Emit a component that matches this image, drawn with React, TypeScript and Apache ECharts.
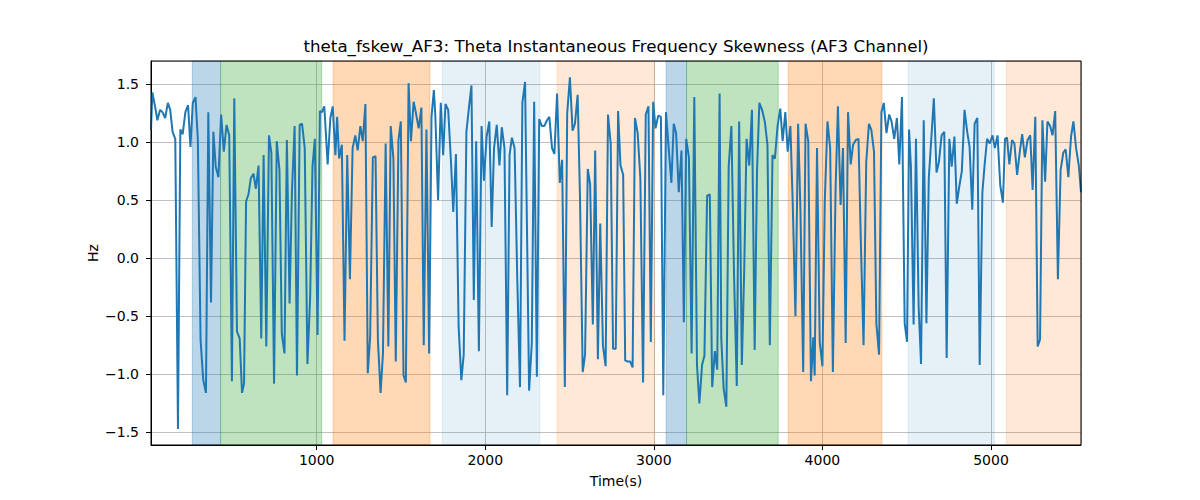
import React, { useEffect, useRef } from "react";
import * as echarts from "echarts";

const TITLE = "theta_fskew_AF3: Theta Instantaneous Frequency Skewness (AF3 Channel)";
const X_LABEL = "Time(s)";
const Y_LABEL = "Hz";

const X_MIN = 17;
const X_MAX = 5534;
const Y_MIN = -1.609;
const Y_MAX = 1.701;

const times = [
  17, 25, 41, 55, 71, 85, 101, 117, 131, 145, 161, 177, 191, 205, 221, 237, 251, 265, 281, 295,
  311, 327, 343, 357, 373, 387, 401, 417, 433, 449, 465, 481, 497, 511, 527, 543, 557, 569, 581, 595,
  609, 625, 639, 655, 671, 685, 701, 717, 731, 747, 763, 779, 793, 809, 823, 839, 853, 869, 883, 899,
  913, 929, 945, 961, 975, 989, 1005, 1019, 1031, 1045, 1065, 1081, 1095, 1111, 1121, 1133, 1149, 1165, 1181, 1197,
  1213, 1229, 1243, 1259, 1273, 1289, 1303, 1317, 1333, 1349, 1363, 1379, 1393, 1409, 1425, 1439, 1455, 1469, 1485, 1499,
  1515, 1529, 1545, 1559, 1575, 1589, 1605, 1621, 1635, 1651, 1667, 1681, 1695, 1704, 1720, 1736, 1750, 1764, 1780, 1796,
  1810, 1826, 1842, 1858, 1872, 1888, 1904, 1918, 1932, 1946, 1962, 1978, 1992, 2008, 2024, 2038, 2052, 2068, 2084, 2098,
  2114, 2130, 2144, 2158, 2174, 2190, 2206, 2220, 2236, 2260, 2276, 2290, 2306, 2320, 2336, 2350, 2366, 2380, 2396, 2410,
  2426, 2442, 2456, 2472, 2486, 2502, 2518, 2532, 2548, 2562, 2578, 2592, 2608, 2622, 2638, 2652, 2668, 2682, 2698, 2714,
  2728, 2744, 2758, 2774, 2788, 2802, 2818, 2830, 2844, 2860, 2874, 2888, 2904, 2920, 2936, 2952, 2968, 2982, 2996, 3010,
  3026, 3042, 3056, 3072, 3088, 3104, 3118, 3132, 3148, 3164, 3178, 3192, 3208, 3224, 3240, 3256, 3270, 3286, 3300, 3316,
  3332, 3346, 3362, 3376, 3390, 3400, 3414, 3430, 3444, 3460, 3476, 3492, 3506, 3522, 3536, 3550, 3566, 3582, 3598, 3612,
  3626, 3642, 3658, 3674, 3688, 3704, 3718, 3734, 3750, 3764, 3780, 3794, 3810, 3824, 3840, 3856, 3870, 3886, 3900, 3916,
  3932, 3946, 3954, 3968, 3984, 4000, 4014, 4030, 4046, 4062, 4078, 4092, 4108, 4122, 4138, 4152, 4168, 4182, 4198, 4214,
  4228, 4244, 4260, 4276, 4290, 4306, 4320, 4336, 4350, 4364, 4380, 4396, 4410, 4426, 4442, 4456, 4472, 4488, 4502, 4514,
  4525, 4541, 4555, 4571, 4585, 4601, 4617, 4631, 4645, 4661, 4677, 4691, 4707, 4723, 4737, 4753, 4767, 4783, 4797, 4813,
  4827, 4843, 4859, 4873, 4889, 4903, 4919, 4933, 4949, 4963, 4977, 4993, 5009, 5023, 5039, 5055, 5071, 5083, 5095, 5109,
  5125, 5139, 5155, 5171, 5185, 5201, 5217, 5233, 5247, 5263, 5277, 5291, 5305, 5321, 5335, 5351, 5365, 5381, 5397, 5413,
  5429, 5443, 5459, 5475, 5489, 5505, 5521, 5534,
];

const skewness = [
  1.11, 1.43, 1.31, 1.19, 1.28, 1.26, 1.21, 1.34, 1.28, 1.09, 1.03, -1.47, 1.11, 1.07, 1.26, 1.32, 0.96, 1.34, 1.39, 1.02,
  -0.70, -1.05, -1.16, 1.26, -0.38, 1.09, 0.79, 0.70, 1.24, 0.92, 1.15, 1.06, -1.06, 1.38, -0.63, -0.69, -1.16, -1.08, 0.49, 0.55,
  0.69, 0.73, 0.60, 0.80, -0.69, 0.89, -0.76, 1.06, 0.91, -1.08, 1.01, 0.76, -0.65, -0.82, 1.02, -0.39, 0.57, 1.14, -1.01, 1.15,
  1.16, 0.95, -0.91, -0.34, 0.79, 1.03, -0.66, 1.27, 1.26, 1.31, 0.81, 1.21, 1.31, 0.89, 1.22, 0.86, 0.98, -0.71, 0.89, -0.18,
  0.95, 1.06, 0.93, 1.14, 1.01, 1.33, -0.99, -0.68, 0.87, 0.88, -0.70, -1.16, -0.82, 0.99, -0.76, 1.14, 0.86, -0.89, 1.02, 1.18,
  -1.01, -1.07, 1.51, 1.01, 1.35, 1.25, 1.12, 1.30, -0.75, 1.11, -0.82, 1.22, 1.45, 1.22, 0.50, 1.34, 0.89, 1.33, 1.28, 0.85,
  0.40, 0.90, -0.59, -1.05, -0.83, 1.09, 1.31, 1.49, -0.36, 1.01, -0.80, 1.14, 0.67, 1.05, 1.18, 0.27, 0.95, 1.15, 0.80, 1.13,
  0.95, -1.18, 0.89, 1.04, 0.95, -0.19, -1.11, 1.34, 1.52, -1.14, -0.73, 1.35, -1.02, 1.20, 1.14, 1.14, 1.19, 1.22, 0.95, 0.90,
  1.42, 0.65, 0.85, -1.11, 1.25, 1.56, 1.10, 1.16, 1.41, 0.52, -0.98, -0.83, 0.77, 0.64, -0.57, 0.93, -0.87, 0.30, -0.75, -0.93,
  1.24, 0.99, -0.78, -0.78, 1.27, 0.80, 0.72, -0.88, -0.89, -0.89, -0.94, 1.21, 1.08, 0.69, -1.07, 1.24, 1.31, -0.72, 1.35, 1.12,
  1.23, 1.22, -1.18, 1.26, 0.95, 0.65, 1.16, 1.08, 0.57, 0.93, -0.55, 1.03, 0.87, -0.82, 1.39, -0.92, -1.25, -0.92, -0.84, 0.54,
  0.55, -1.11, -0.80, -0.96, 1.42, -0.69, -1.12, -1.28, 0.79, 1.14, -0.16, -1.10, 1.18, -0.92, -0.11, 1.03, 0.80, 1.28, -0.79, 0.75,
  1.34, 1.28, 1.18, 0.98, -0.75, 0.89, 0.86, 1.14, 1.29, 1.01, 1.26, 0.92, 1.14, 0.47, -0.50, 1.16, 0.39, -0.98, 1.16, 1.01,
  -1.06, -0.68, -1.01, 0.95, -0.72, -0.93, 0.49, 1.18, 0.95, -0.98, 0.59, 1.31, 0.46, 0.95, -0.73, 1.26, 0.81, 0.98, 1.02, 1.03,
  0.14, -0.75, 0.83, 1.16, 1.11, 0.92, -0.56, -0.83, 1.26, 1.34, 1.08, 1.24, 1.18, 1.03, 1.21, 0.81, 1.39, -0.56, -0.72, 1.11,
  0.79, -0.57, 1.03, -0.42, -0.91, 1.19, -0.56, 0.69, 1.01, 1.38, 0.74, 0.83, 1.06, 1.09, -0.86, 1.03, 0.79, 1.05, 0.47, 0.63,
  0.75, 1.28, 1.09, 0.96, 0.42, 1.16, 1.21, -0.92, 0.57, 0.82, 1.03, 0.99, 1.06, 0.95, 1.06, 0.63, 0.48, 1.03, 1.04, 0.81,
  1.02, 0.99, 0.72, 0.92, 1.07, 0.87, 1.02, 1.06, 0.59, 1.22, -0.76, -0.70, 1.19, 0.66, 1.18, 1.14, 1.06, 1.27, -0.18, 0.76,
  0.91, 0.94, 0.70, 1.05, 1.18, 0.95, 0.80, 0.57,
];

// Shaded intervals (start, end, kind)
const regionStarts = [262, 430, 1097, 1746, 2426, 3073, 3194, 3797, 4509, 5091];
const regionEnds = [430, 1030, 1672, 2323, 3003, 3194, 3738, 4353, 5020, 5534];
const regionKinds = ["blue", "green", "orange", "lightblue", "lightorange", "blue", "green", "orange", "lightblue", "lightorange"];

const KIND_COLORS: Record<string, string> = {
  blue: "rgba(31,119,180,0.3)",
  green: "rgba(44,160,44,0.3)",
  orange: "rgba(255,127,14,0.3)",
  lightblue: "rgba(31,119,180,0.11)",
  lightorange: "rgba(255,127,14,0.17)",
};

const FONT = "DejaVu Sans";

export default function App() {
  const ref = useRef<HTMLDivElement>(null);

  useEffect(() => {
    if (!ref.current) return;
    const chart = echarts.init(ref.current, undefined, { renderer: "svg" });

    const lineData = times.map((t, i) => [t, skewness[i]]);
    const areas = regionStarts.map((s, i) => {
      const c = KIND_COLORS[regionKinds[i]];
      return [
        { xAxis: s, itemStyle: { color: c, borderColor: c, borderWidth: 1 } },
        { xAxis: regionEnds[i] },
      ];
    });

    const gridLeft = 151;
    const gridTop = 61;
    const gridRight = 1081;
    const gridBottom = 445;

    chart.setOption({
      animation: false,
      backgroundColor: "#ffffff",
      grid: {
        left: gridLeft,
        top: gridTop,
        width: gridRight - gridLeft,
        height: gridBottom - gridTop,
        containLabel: false,
        outerBoundsMode: "none",
        show: false,
      },
      xAxis: {
        type: "value",
        min: X_MIN,
        max: X_MAX,
        splitNumber: 5,
        axisLine: { show: true, onZero: false, lineStyle: { color: "#000", width: 1 } },
        axisTick: { show: true, length: 5, lineStyle: { color: "#000", width: 1 } },
        axisLabel: {
          show: true,
          showMinLabel: false,
          showMaxLabel: false,
          color: "#000",
          fontFamily: FONT,
          fontSize: 14,
          margin: 8,
          formatter: (v: number) => String(Math.round(v)),
        },
        splitLine: { show: true, lineStyle: { color: "#b0b0b0", width: 0.8 } },
      },
      yAxis: {
        type: "value",
        min: Y_MIN,
        max: Y_MAX,
        splitNumber: 5,
        axisLine: { show: true, onZero: false, lineStyle: { color: "#000", width: 1 } },
        axisTick: { show: true, length: 5, lineStyle: { color: "#000", width: 1 } },
        axisLabel: {
          show: true,
          showMinLabel: false,
          showMaxLabel: false,
          color: "#000",
          fontFamily: FONT,
          fontSize: 14,
          margin: 12,
          formatter: (v: number) => v.toFixed(1).replace("-", "\u2212"),
        },
        splitLine: { show: true, lineStyle: { color: "#b0b0b0", width: 0.8 } },
      },
      series: [
        {
          type: "line",
          data: [],
          z: 1,
          silent: true,
          markArea: {
            silent: true,
            data: areas,
          },
        },
        {
          type: "line",
          data: lineData,
          z: 5,
          showSymbol: false,
          symbol: "none",
          lineStyle: { color: "#1f77b4", width: 2 },
          itemStyle: { color: "#1f77b4" },
        },
      ],
      graphic: [
        {
          type: "rect",
          silent: true,
          z: 100,
          shape: { x: gridLeft, y: gridTop, width: gridRight - gridLeft, height: gridBottom - gridTop },
          style: { fill: "none", stroke: "#000", lineWidth: 1 },
        },
        {
          type: "text",
          x: 616,
          y: 46,
          style: {
            text: TITLE,
            textAlign: "center",
            textVerticalAlign: "middle",
            font: `16.7px '${FONT}'`,
            fill: "#000",
          },
        },
        {
          type: "text",
          x: 616,
          y: 481,
          style: {
            text: X_LABEL,
            textAlign: "center",
            textVerticalAlign: "middle",
            font: `14px '${FONT}'`,
            fill: "#000",
          },
        },
        {
          type: "text",
          x: 93,
          y: 253,
          rotation: Math.PI / 2,
          style: {
            text: Y_LABEL,
            textAlign: "center",
            textVerticalAlign: "middle",
            font: `14px '${FONT}'`,
            fill: "#000",
          },
        },
      ],
    });

    return () => chart.dispose();
  }, []);

  return (
    <div
      ref={ref}
      style={{ position: "fixed", left: 0, top: 0, width: 1200, height: 500, background: "#fff" }}
    />
  );
}
